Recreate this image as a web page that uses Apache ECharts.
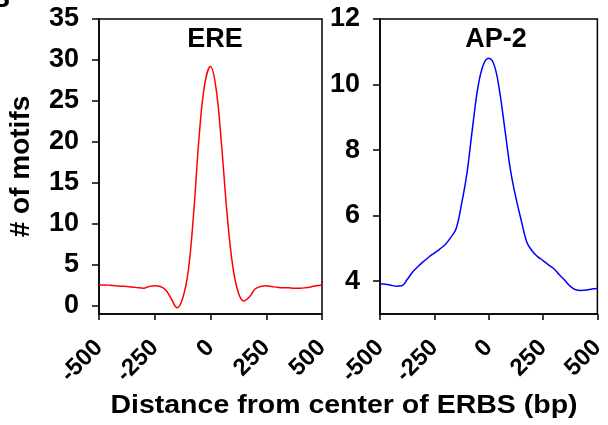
<!DOCTYPE html>
<html>
<head>
<meta charset="utf-8">
<script src="https://cdn.jsdelivr.net/npm/echarts@6/dist/echarts.min.js"></script>
<style>
  html, body { margin: 0; padding: 0; background: #fff; }
  #chart { width: 608px; height: 425px; }
</style>
</head>
<body>
<div id="chart"></div>
<script>
// distance from ERBS center (bp), every 25 bp
const distances = [
  -500, -475, -450, -425, -400, -375, -350, -325, -300, -275, -250,
  -225, -200, -175, -150, -125, -100, -75, -50, -25, 0,
  25, 50, 75, 100, 125, 150, 175, 200, 225, 250,
  275, 300, 325, 350, 375, 400, 425, 450, 475, 500
]
// ERE motif counts
const ereCounts = [
  2.55, 2.55, 2.5, 2.45, 2.4, 2.35, 2.3, 2.2, 2.15, 2.35, 2.45,
  2.35, 1.9, 0.8, -0.25, 0.9, 4.2, 11.5, 21.0, 27.2, 29.2,
  26.5, 19.5, 11.0, 4.8, 1.6, 0.6, 1.1, 2.05, 2.35, 2.45,
  2.35, 2.25, 2.2, 2.2, 2.15, 2.15, 2.2, 2.3, 2.45, 2.55
]
// AP-2 motif counts
const ap2Counts = [
  3.92, 3.91, 3.88, 3.85, 3.86, 4.05, 4.28, 4.45, 4.6, 4.74, 4.86,
  4.98, 5.12, 5.33, 5.6, 6.35, 7.3, 8.65, 9.9, 10.6, 10.8,
  10.6, 9.8, 8.6, 7.4, 6.55, 5.85, 5.2, 4.92, 4.75, 4.63,
  4.5, 4.38, 4.2, 4.03, 3.85, 3.74, 3.72, 3.73, 3.76, 3.78
]
const xTicks = [-500, -250, 0, 250, 500]
const ereTicks = [0, 5, 10, 15, 20, 25, 30, 35]
const ap2Ticks = [4, 6, 8, 10, 12]

const font = '"Liberation Sans", Arial, sans-serif'
const chart = echarts.init(document.getElementById('chart'))

const xAxisBase = {
  type: 'value',
  min: -500,
  max: 500,
  axisLine: { show: true, onZero: false, lineStyle: { color: '#000', width: 1.5 } },
  axisTick: { show: true, length: 6, customValues: xTicks, lineStyle: { color: '#000', width: 1.5 } },
  axisLabel: {
    customValues: xTicks,
    rotate: 45,
    margin: 30,
    color: '#000',
    fontSize: 24,
    fontWeight: 'bold',
    fontFamily: font
  },
  splitLine: { show: false }
}

function yAxisFor(min, max, ticks, extra) {
  return Object.assign({
    type: 'value',
    min: min,
    max: max,
    axisLine: { show: true, onZero: false, lineStyle: { color: '#000', width: 1.5 } },
    axisTick: { show: true, length: 7, customValues: ticks, lineStyle: { color: '#000', width: 1.5 } },
    axisLabel: {
      customValues: ticks,
      margin: 20,
      color: '#000',
      fontSize: 27,
      fontWeight: 'bold',
      fontFamily: font
    },
    splitLine: { show: false }
  }, extra || {})
}

chart.setOption({
  backgroundColor: '#fff',
  animation: false,
  title: [
    { text: 'ERE', left: 210, top: 21, textAlign: 'center',
      textStyle: { fontSize: 27, fontWeight: 'bold', color: '#000', fontFamily: font } },
    { text: 'AP-2', left: 491, top: 21, textAlign: 'center',
      textStyle: { fontSize: 27, fontWeight: 'bold', color: '#000', fontFamily: font } }
  ],
  grid: [
    { left: 99, right: 286, top: 19, bottom: 111, show: true, borderColor: '#000', borderWidth: 1.5 },
    { left: 380, right: 6, top: 19, bottom: 111, show: true, borderColor: '#000', borderWidth: 1.5 }
  ],
  xAxis: [
    Object.assign({ gridIndex: 0 }, xAxisBase),
    Object.assign({ gridIndex: 1 }, xAxisBase)
  ],
  yAxis: [
    yAxisFor(-1, 35, ereTicks, {
      gridIndex: 0,
      name: '# of motifs',
      nameLocation: 'middle',
      nameRotate: 90,
      nameGap: 64,
      nameTextStyle: { fontSize: 28, fontWeight: 'bold', color: '#000', fontFamily: font }
    }),
    yAxisFor(3, 12, ap2Ticks, { gridIndex: 1 })
  ],
  graphic: [
    {
      // x-axis title is slightly wide in the figure
      type: 'text',
      x: 344, y: 394,
      scaleX: 1.14,
      style: {
        text: 'Distance from center of ERBS (bp)',
        fill: '#000',
        font: 'bold 25px ' + font,
        textAlign: 'center',
        textVerticalAlign: 'top'
      }
    },
    {
      type: 'text',
      x: -10, y: -15,
      style: { text: 'B', fill: '#000', font: 'bold 28px ' + font }
    }
  ],
  series: [
    {
      type: 'line',
      xAxisIndex: 0,
      yAxisIndex: 0,
      data: distances.map((d, i) => [d, ereCounts[i]]),
      smooth: 0.4,
      showSymbol: false,
      lineStyle: { color: '#ff0000', width: 1.5 }
    },
    {
      type: 'line',
      xAxisIndex: 1,
      yAxisIndex: 1,
      data: distances.map((d, i) => [d, ap2Counts[i]]),
      smooth: 0.4,
      showSymbol: false,
      lineStyle: { color: '#0000ff', width: 1.5 }
    }
  ]
})
</script>
</body>
</html>
